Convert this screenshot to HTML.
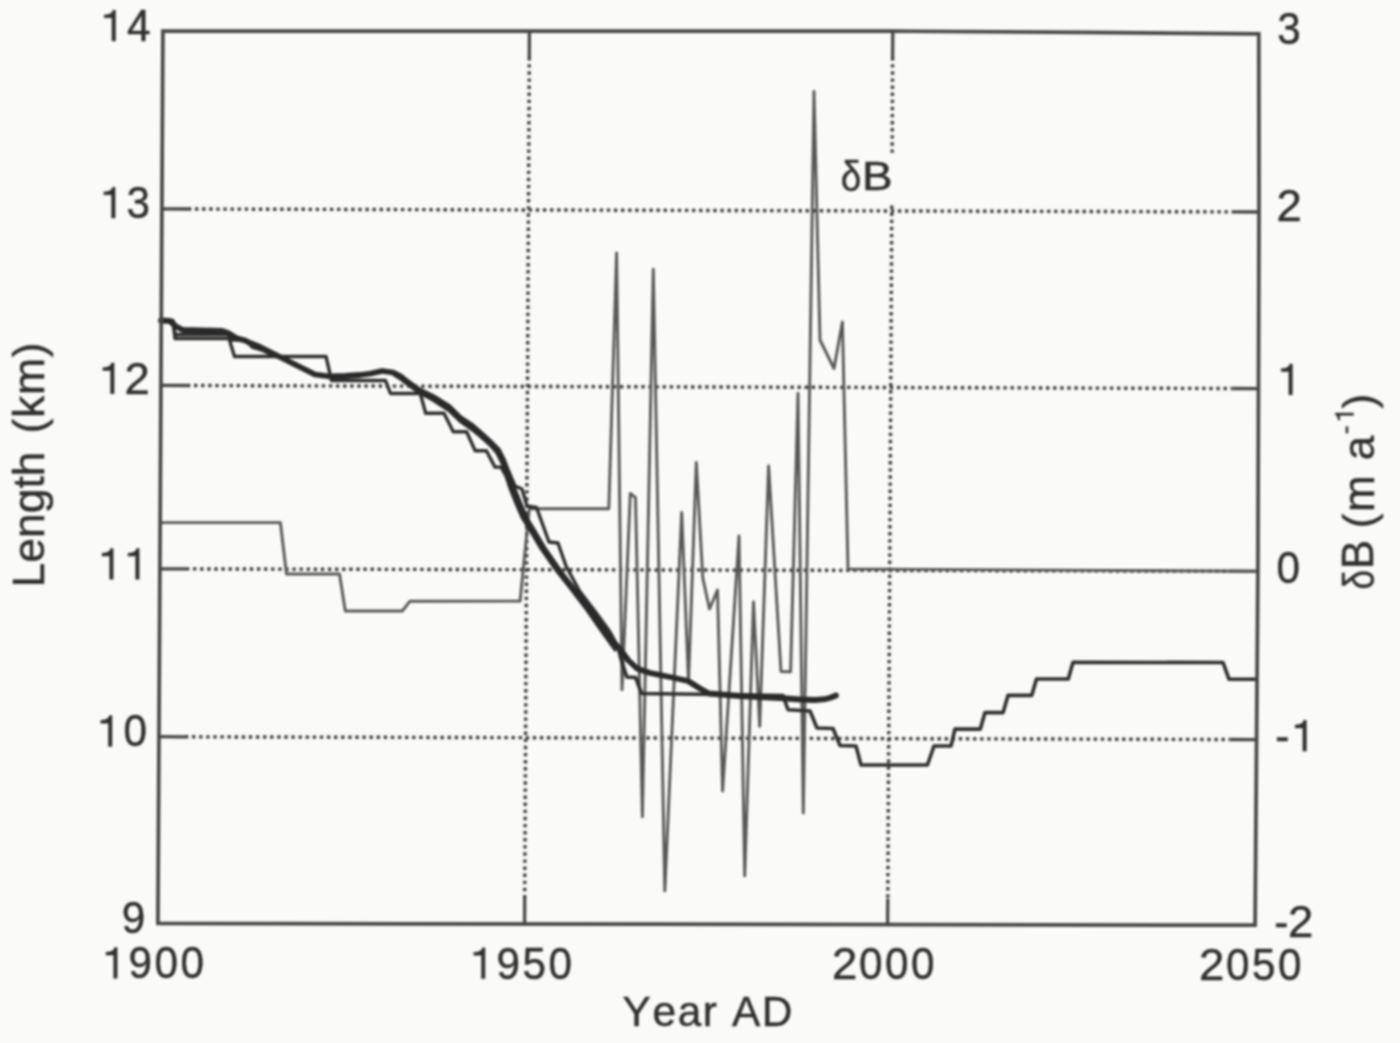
<!DOCTYPE html>
<html><head><meta charset="utf-8"><style>
html,body{margin:0;padding:0;background:#fafbf8;}
svg{display:block;}
text{font-family:"Liberation Sans",sans-serif;fill:#2f2f2f;stroke:#2f2f2f;stroke-width:0.45;font-kerning:none;}
.frame{fill:none;stroke:#464646;stroke-width:3.7;stroke-linejoin:miter;}
.tick{stroke:#464646;stroke-width:3.3;}
.grid{stroke:#3e3e3e;stroke-width:3.4;stroke-dasharray:3.4 3.7;}
.db{fill:none;stroke:#585858;stroke-width:2.9;stroke-linejoin:round;}
.s{fill:none;stroke:#2e2e2e;stroke-width:3.4;stroke-linejoin:round;}
.f{fill:none;stroke:#2e2e2e;stroke-width:3.6;stroke-linejoin:round;}
.g1{fill:#2f2f2f;stroke:#2f2f2f;stroke-width:0.45;vector-effect:non-scaling-stroke;}
.t{fill:none;stroke:#2a2a2a;stroke-width:5.8;stroke-linejoin:round;stroke-linecap:round;}
</style></head><body>
<svg width="1400" height="1043" viewBox="0 0 1400 1043">
<defs><filter id="b" x="0" y="0" width="1400" height="1043" filterUnits="userSpaceOnUse" color-interpolation-filters="sRGB"><feGaussianBlur stdDeviation="0.8"/></filter></defs>
<g filter="url(#b)">
<line x1="187.9" y1="209.0" x2="1233.0" y2="211.9" class="grid"/>
<line x1="161.9" y1="208.9" x2="187.9" y2="209.0" class="tick"/>
<line x1="1233.0" y1="211.9" x2="1259.0" y2="212.0" class="tick"/>
<line x1="186.9" y1="385.5" x2="1232.5" y2="388.5" class="grid"/>
<line x1="160.9" y1="385.4" x2="186.9" y2="385.5" class="tick"/>
<line x1="1232.5" y1="388.5" x2="1258.5" y2="388.6" class="tick"/>
<line x1="185.9" y1="568.9" x2="1231.9" y2="571.2" class="grid"/>
<line x1="159.9" y1="568.8" x2="185.9" y2="568.9" class="tick"/>
<line x1="1231.9" y1="571.2" x2="1257.9" y2="571.3" class="tick"/>
<line x1="184.9" y1="736.8" x2="1230.6" y2="739.5" class="grid"/>
<line x1="158.9" y1="736.7" x2="184.9" y2="736.8" class="tick"/>
<line x1="1230.6" y1="739.5" x2="1256.6" y2="739.6" class="tick"/>
<line x1="529.3" y1="57.1" x2="524.7" y2="898.0" class="grid"/>
<line x1="529.4" y1="31.1" x2="529.3" y2="57.1" class="tick"/>
<line x1="524.7" y1="898.0" x2="524.6" y2="924.0" class="tick"/>
<line x1="892.6" y1="57.1" x2="892.1" y2="154" class="grid"/>
<line x1="891.8" y1="205.5" x2="887.8" y2="898.6" class="grid"/>
<line x1="892.8" y1="31.1" x2="892.6" y2="57.1" class="tick"/>
<line x1="887.8" y1="898.6" x2="887.6" y2="924.6" class="tick"/>
<polyline points="160.5,522.6 280.4,522.6 286.5,574.0 339.5,574.0 345.3,611.0 402.3,611.0 410.0,601.2 520.1,601.0 529.3,508.6 608.8,508.8 616.6,252.9 622.0,689.7 630.3,493.5 635.5,497.6 642.4,816.7 653.3,269.3 664.8,890.9 681.7,512.5 688.5,682.0 696.3,462.5 702.8,578.0 709.5,609.0 717.5,590.0 722.6,791.0 739.0,536.0 744.7,875.9 753.5,602.0 759.7,726.4 768.6,466.0 781.0,671.5 790.6,671.7 798.0,393.2 803.3,813.0 814.0,91.5 820.0,340.0 834.0,368.5 842.4,322.0 848.0,569.0 1257.5,571.3" class="db"/>
<polyline points="161.0,320.5 173.0,320.5 175.0,338.5 229.0,338.5 234.5,356.5 326.0,356.4 331.5,380.5 385.5,380.5 390.5,393.5 420.3,393.5 425.7,413.3 444.0,413.3 453.3,431.7 466.6,431.8 475.2,450.7 486.4,450.7 495.0,467.1 501.0,467.1 506.0,476.0 510.0,488.0 516.0,503.0 522.0,517.0 530.0,530.0 540.0,547.0 556.0,570.0 571.0,589.0 587.0,610.0 603.0,633.0 616.0,651.0" class="s"/>
<polyline points="173.0,321.0 175.0,334.5 228.0,334.5 232.0,340.0 246.0,340.0 252.0,347.0 262.0,350.0 272.0,355.0 282.0,358.0" class="s"/>
<polyline points="508.0,470.0 515.0,486.0 522.0,489.0 527.0,506.0 536.5,507.5 549.0,542.0 558.0,543.0 566.0,566.0 579.5,591.0 595.5,612.0 610.0,632.0 618.0,647.0" class="s"/>
<polyline points="393.0,374.0 400.0,378.5 405.0,382.5 418.0,392.0 433.0,400.0 449.0,410.5 460.0,421.0 472.0,429.5 480.0,436.0 490.0,445.0 497.0,453.0 502.0,463.0 506.0,474.0" class="s"/>
<polyline points="618.0,647.0 621.0,659.0 626.8,677.0 635.6,677.5 641.6,693.5 660.0,693.8 700.0,694.2 783.0,695.5 788.0,709.7 810.0,711.0 817.0,728.0 833.0,728.5 840.0,745.5 856.0,746.0 861.0,765.0 927.4,765.0 934.0,746.0 951.0,746.0 955.0,729.0 980.3,729.1 985.0,712.6 1003.1,712.6 1008.0,695.4 1031.7,695.4 1036.5,679.0 1068.3,679.0 1073.0,662.3 1223.0,662.5 1229.0,679.2 1257.2,679.2" class="f"/>
<polyline points="161.0,320.5 170.0,321.0 176.0,326.5 183.0,330.0 222.0,331.0 228.0,333.0 236.0,338.0 245.0,340.5 250.0,343.0 260.0,347.0 270.0,352.0 280.0,357.0 300.0,367.0 315.0,374.5 330.0,376.5 345.0,376.0 360.0,375.0 371.0,373.5 382.0,371.0 393.0,372.5 400.0,376.0 405.0,380.0 418.0,389.5 433.0,397.0 449.0,407.0 460.0,418.0 472.0,426.0 480.0,433.0 490.0,442.0 498.0,450.0 503.0,460.0 508.0,473.0 514.0,490.0 520.0,505.0 526.0,519.0 534.0,532.0 544.0,549.0 560.0,572.0 575.0,591.0 591.0,612.0 607.0,635.0 620.0,649.0 628.0,660.0 637.0,668.5 650.0,673.0 670.0,677.0 688.0,681.0 700.0,688.5 709.0,693.5 740.0,696.0 760.0,697.0 780.0,698.0 800.0,699.5 815.0,700.0 825.0,699.2 831.0,697.5 836.0,695.5" class="t"/>
<polygon points="162.9,31.0 893.0,31.1 1085.0,32.4 1258.8,33.9 1259.0,212.0 1257.9,571.0 1257.2,660.0 1255.1,925.2 157.9,923.4" class="frame"/>
<path d="M262,0 L346,0 L346,700 L284,700 C272,640 222,598 80,592 L80,527 L262,527 Z" transform="translate(100.90,41.0) scale(0.0422,-0.0440)" class="g1"/><text transform="translate(126.90,41.0) scale(0.96,1)" font-size="44">4</text>
<path d="M262,0 L346,0 L346,700 L284,700 C272,640 222,598 80,592 L80,527 L262,527 Z" transform="translate(100.50,218.0) scale(0.0422,-0.0440)" class="g1"/><text transform="translate(126.50,218.0) scale(0.96,1)" font-size="44">3</text>
<path d="M262,0 L346,0 L346,700 L284,700 C272,640 222,598 80,592 L80,527 L262,527 Z" transform="translate(99.50,393.7) scale(0.0422,-0.0440)" class="g1"/><text transform="translate(124.60,393.7) scale(1.0368,1)" font-size="44">2</text>
<path d="M262,0 L346,0 L346,700 L284,700 C272,640 222,598 80,592 L80,527 L262,527 Z" transform="translate(98.60,579.3) scale(0.0422,-0.0440)" class="g1"/><path d="M262,0 L346,0 L346,700 L284,700 C272,640 222,598 80,592 L80,527 L262,527 Z" transform="translate(124.60,579.3) scale(0.0422,-0.0440)" class="g1"/>
<path d="M262,0 L346,0 L346,700 L284,700 C272,640 222,598 80,592 L80,527 L262,527 Z" transform="translate(97.40,746.4) scale(0.0422,-0.0440)" class="g1"/><text transform="translate(123.40,746.4) scale(0.96,1)" font-size="44">0</text>
<text transform="translate(121.80,932.9) scale(0.96,1)" font-size="44">9</text>
<text transform="translate(1277.30,44.1) scale(0.96,1)" font-size="44">3</text>
<text transform="translate(1276.40,220.8) scale(1.0368,1)" font-size="44">2</text>
<path d="M262,0 L346,0 L346,700 L284,700 C272,640 222,598 80,592 L80,527 L262,527 Z" transform="translate(1277.80,394.8) scale(0.0422,-0.0440)" class="g1"/>
<text transform="translate(1276.60,582.9) scale(0.96,1)" font-size="44">0</text>
<text transform="translate(1275.20,751.1) scale(0.96,1)" font-size="44">-</text><path d="M262,0 L346,0 L346,700 L284,700 C272,640 222,598 80,592 L80,527 L262,527 Z" transform="translate(1291.80,751.1) scale(0.0422,-0.0440)" class="g1"/>
<text transform="translate(1274.20,936.9) scale(0.96,1)" font-size="44">-</text><text transform="translate(1287.90,936.9) scale(1.0368,1)" font-size="44">2</text>
<path d="M262,0 L346,0 L346,700 L284,700 C272,640 222,598 80,592 L80,527 L262,527 Z" transform="translate(102.60,978.3) scale(0.0422,-0.0440)" class="g1"/><text transform="translate(128.60,978.3) scale(0.96,1)" font-size="44">9</text><text transform="translate(154.60,978.3) scale(0.96,1)" font-size="44">0</text><text transform="translate(180.60,978.3) scale(0.96,1)" font-size="44">0</text>
<path d="M262,0 L346,0 L346,700 L284,700 C272,640 222,598 80,592 L80,527 L262,527 Z" transform="translate(470.40,978.5) scale(0.0422,-0.0440)" class="g1"/><text transform="translate(496.40,978.5) scale(0.96,1)" font-size="44">9</text><text transform="translate(522.40,978.5) scale(0.96,1)" font-size="44">5</text><text transform="translate(548.40,978.5) scale(0.96,1)" font-size="44">0</text>
<text transform="translate(832.10,978.9) scale(1.0368,1)" font-size="44">2</text><text transform="translate(859.00,978.9) scale(0.96,1)" font-size="44">0</text><text transform="translate(885.00,978.9) scale(0.96,1)" font-size="44">0</text><text transform="translate(911.00,978.9) scale(0.96,1)" font-size="44">0</text>
<text transform="translate(1199.10,980.3) scale(1.0368,1)" font-size="44">2</text><text transform="translate(1226.00,980.3) scale(0.96,1)" font-size="44">0</text><text transform="translate(1252.00,980.3) scale(0.96,1)" font-size="44">5</text><text transform="translate(1278.00,980.3) scale(0.96,1)" font-size="44">0</text>
<text x="622.6" y="1025.9" font-size="42.4" letter-spacing="1.6">Year AD</text>
<text transform="translate(44.1,587.55) rotate(-90)" font-size="44.5">Length</text>
<text transform="translate(44.1,433.6) rotate(-90)" font-size="44.5" letter-spacing="0.77">(km)</text>
<text transform="translate(1373.5,589.4) rotate(-90) scale(0.8,1)" font-size="44">δ</text>
<text transform="translate(1373.2,569.3) rotate(-90) scale(1.0,1)" font-size="44">B</text>
<text transform="translate(1374,528.2) rotate(-90) scale(1.0,1)" font-size="44">(</text>
<text transform="translate(1374,512.1) rotate(-90) scale(1.0,1)" font-size="44">m</text>
<text transform="translate(1374,460.2) rotate(-90) scale(1.0,1)" font-size="44">a</text>
<text transform="translate(1354.4,434.3) rotate(-90) scale(1.0,1)" font-size="26">-</text>
<text transform="translate(1374,408.5) rotate(-90) scale(1.0,1)" font-size="44">)</text>
<path d="M262,0 L346,0 L346,700 L284,700 C272,640 222,598 80,592 L80,527 L262,527 Z" transform="translate(1353.5,422.1) rotate(-90) scale(0.0260,-0.0260)" class="g1"/>
<text transform="translate(840.65,190.9) scale(0.87,1)" font-size="42.5">δ</text>
<text transform="translate(862.1,189.9) scale(1.12,1)" font-size="41">B</text>
</g>
</svg>
</body></html>
